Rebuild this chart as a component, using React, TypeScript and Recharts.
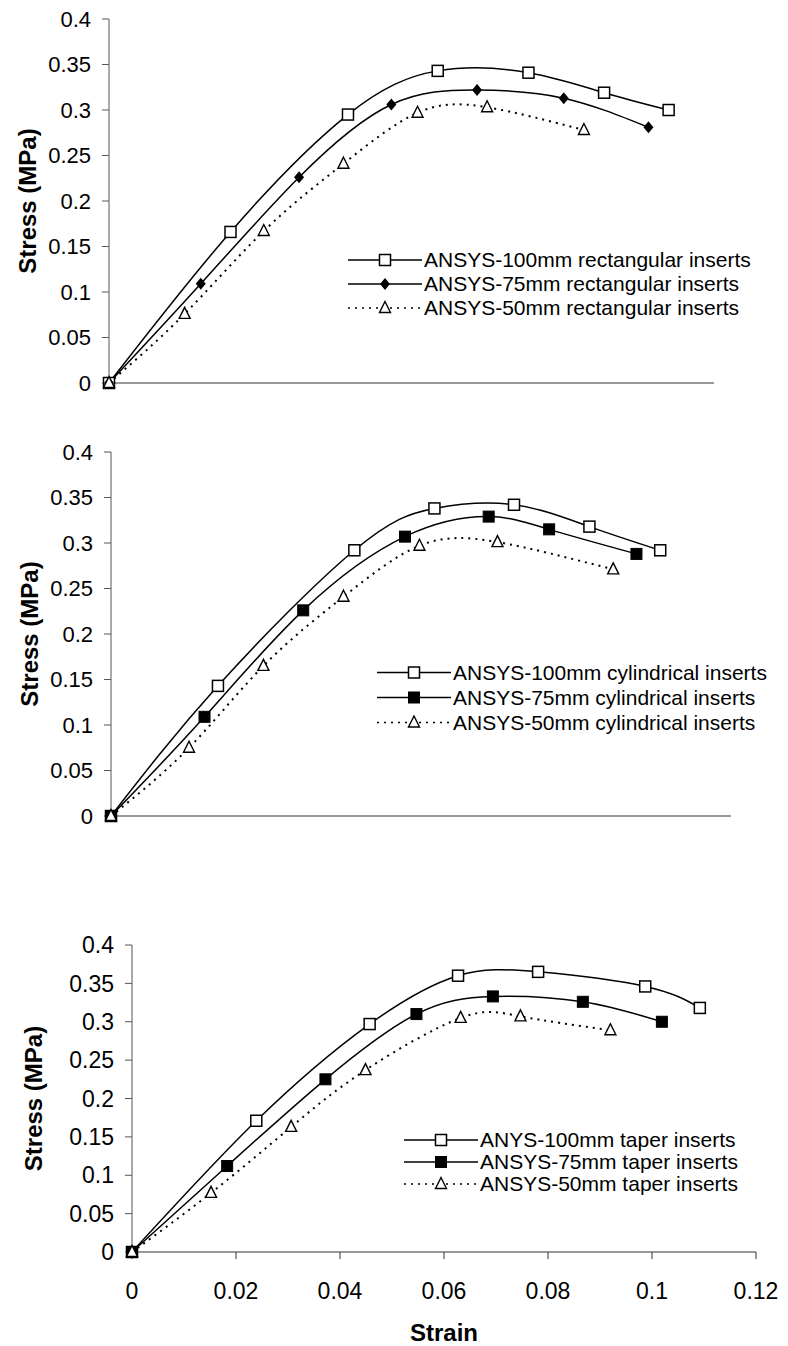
import React from "react";
import { LineChart, Line, XAxis, YAxis, Legend } from "recharts";

const strainTicks = [0, 0.02, 0.04, 0.06, 0.08, 0.1, 0.12];
const stressTicks = [0, 0.05, 0.1, 0.15, 0.2, 0.25, 0.3, 0.35, 0.4];

// [strain, stress (MPa)]
const rect100 = [[0, 0], [0.0241, 0.166], [0.0474, 0.295], [0.0652, 0.343], [0.0832, 0.341], [0.0982, 0.319], [0.111, 0.3]];
const rect75 = [[0, 0], [0.0182, 0.109], [0.0377, 0.226], [0.056, 0.306], [0.073, 0.322], [0.0902, 0.313], [0.107, 0.281]];
const rect50 = [[0, 0], [0.015, 0.076], [0.0307, 0.167], [0.0465, 0.241], [0.0612, 0.297], [0.075, 0.303], [0.0942, 0.278]];

const cyl100 = [[0, 0], [0.0207, 0.143], [0.0471, 0.292], [0.0626, 0.338], [0.078, 0.342], [0.0926, 0.318], [0.1063, 0.292]];
const cyl75 = [[0, 0], [0.0181, 0.109], [0.0372, 0.226], [0.0569, 0.307], [0.0731, 0.329], [0.0848, 0.315], [0.1017, 0.288]];
const cyl50 = [[0, 0], [0.0151, 0.075], [0.0295, 0.165], [0.045, 0.241], [0.0597, 0.297], [0.0748, 0.301], [0.0972, 0.271]];

const taper100 = [[0, 0], [0.0239, 0.171], [0.0457, 0.297], [0.0627, 0.36], [0.0781, 0.365], [0.0987, 0.346], [0.1092, 0.318]];
const taper75 = [[0, 0], [0.0183, 0.112], [0.0372, 0.225], [0.0547, 0.31], [0.0694, 0.333], [0.0867, 0.326], [0.1019, 0.3]];
const taper50 = [[0, 0], [0.0152, 0.077], [0.0306, 0.163], [0.0449, 0.237], [0.0632, 0.305], [0.0747, 0.307], [0.092, 0.289]];

const FONT = "'Liberation Sans', Arial, sans-serif";

const toRows = (pts: number[][]) => pts.map(([strain, stress]) => ({ strain, stress }));

type MarkerKind = "openSquare" | "square" | "diamond" | "triangle";

function drawMarker(kind: MarkerKind, cx: number, cy: number) {
  if (kind === "openSquare")
    return <rect x={cx - 5.5} y={cy - 5.5} width={11} height={11} fill="#fff" stroke="#000" strokeWidth={1.5} />;
  if (kind === "square")
    return <rect x={cx - 5.5} y={cy - 5.5} width={11} height={11} fill="#000" stroke="#000" strokeWidth={1} />;
  if (kind === "diamond")
    return <polygon points={`${cx},${cy - 6} ${cx + 5},${cy} ${cx},${cy + 6} ${cx - 5},${cy}`} fill="#000" />;
  return (
    <polygon
      points={`${cx},${cy - 6.5} ${cx + 5.5},${cy + 4.5} ${cx - 5.5},${cy + 4.5}`}
      fill="#fff"
      stroke="#000"
      strokeWidth={1.4}
    />
  );
}

const makeDot = (kind: MarkerKind) => (props: any) => {
  const { cx, cy, index } = props;
  if (cx == null || cy == null) return <g key={index} />;
  return <g key={index}>{drawMarker(kind, cx, cy)}</g>;
};

type Series = { name: string; points: number[][]; marker: MarkerKind; dash?: string };

function LegendBlock({ items, rowH, fontSize }: { items: Series[]; rowH: number; fontSize: number }) {
  return (
    <div style={{ fontFamily: FONT, fontSize, color: "#000" }}>
      {items.map((s) => (
        <div key={s.name} style={{ display: "flex", alignItems: "center", height: rowH }}>
          <svg width={74} height={rowH}>
            <line x1={0} x2={74} y1={rowH / 2} y2={rowH / 2} stroke="#000" strokeWidth={1.5} strokeDasharray={s.dash} />
            {drawMarker(s.marker, 37, rowH / 2)}
          </svg>
          <span style={{ marginLeft: 2, whiteSpace: "nowrap" }}>{s.name}</span>
        </div>
      ))}
    </div>
  );
}

const StressLabel = (x: number) => (props: any) => {
  const vb = props.viewBox || {};
  const cy = vb.y + vb.height / 2;
  return (
    <text
      x={x}
      y={cy}
      transform={`rotate(-90 ${x} ${cy})`}
      textAnchor="middle"
      dominantBaseline="central"
      fontFamily={FONT}
      fontWeight="bold"
      fontSize={24}
      fill="#000"
    >
      Stress (MPa)
    </text>
  );
};

const StrainLabel = (props: any) => {
  const vb = props.viewBox || {};
  return (
    <text
      x={vb.x + vb.width / 2}
      y={vb.y + 80}
      textAnchor="middle"
      dominantBaseline="central"
      fontFamily={FONT}
      fontWeight="bold"
      fontSize={24}
      fill="#000"
    >
      Strain
    </text>
  );
};

type PanelProps = {
  top: number;
  height: number;
  margin: { top: number; right: number };
  yWidth: number;
  xHeight: number;
  labelX: number;
  tickFont: number;
  showX: boolean;
  series: Series[];
  legend: { left: number; top: number; rowH: number; fontSize: number };
};

function Panel({ top, height, margin, yWidth, xHeight, labelX, tickFont, showX, series, legend }: PanelProps) {
  const Y = StressLabel(labelX);
  return (
    <div style={{ position: "absolute", left: 0, top }}>
      <LineChart width={788} height={height} margin={{ top: margin.top, right: margin.right, left: 0, bottom: 0 }}>
        <XAxis
          type="number"
          dataKey="strain"
          domain={[0, 0.12]}
          ticks={strainTicks}
          height={xHeight}
          axisLine={{ stroke: "#333", strokeWidth: 1 }}
          tickLine={{ stroke: "#333" }}
          tickSize={7}
          tickMargin={24}
          tick={showX ? { fontFamily: FONT, fontSize: tickFont, fill: "#000" } : false}
          label={showX ? <StrainLabel /> : undefined}
        />
        <YAxis
          type="number"
          dataKey="stress"
          domain={[0, 0.4]}
          ticks={stressTicks}
          width={yWidth}
          axisLine={{ stroke: "#555", strokeWidth: 1 }}
          tickLine={{ stroke: "#555" }}
          tickSize={7}
          tickMargin={11}
          tick={{ fontFamily: FONT, fontSize: tickFont, fill: "#000" }}
          label={<Y />}
        />
        {series.map((s) => (
          <Line
            key={s.name}
            name={s.name}
            data={toRows(s.points)}
            dataKey="stress"
            type="natural"
            stroke="#000"
            strokeWidth={s.dash ? 2 : 1.5}
            strokeDasharray={s.dash}
            dot={makeDot(s.marker)}
            activeDot={false}
            isAnimationActive={false}
          />
        ))}
        <Legend
          layout="vertical"
          align="center"
          verticalAlign="middle"
          wrapperStyle={{ left: legend.left, top: legend.top, width: 440, height: "auto" }}
          content={() => <LegendBlock items={series} rowH={legend.rowH} fontSize={legend.fontSize} />}
        />
      </LineChart>
    </div>
  );
}

const rectSeries: Series[] = [
  { name: "ANSYS-100mm rectangular inserts", points: rect100, marker: "openSquare" },
  { name: "ANSYS-75mm rectangular inserts", points: rect75, marker: "diamond" },
  { name: "ANSYS-50mm rectangular inserts", points: rect50, marker: "triangle", dash: "2 5" },
];

const cylSeries: Series[] = [
  { name: "ANSYS-100mm cylindrical inserts", points: cyl100, marker: "openSquare" },
  { name: "ANSYS-75mm cylindrical inserts", points: cyl75, marker: "square" },
  { name: "ANSYS-50mm cylindrical inserts", points: cyl50, marker: "triangle", dash: "2 5" },
];

const taperSeries: Series[] = [
  { name: "ANYS-100mm taper inserts", points: taper100, marker: "openSquare" },
  { name: "ANSYS-75mm taper inserts", points: taper75, marker: "square" },
  { name: "ANSYS-50mm taper inserts", points: taper50, marker: "triangle", dash: "2 5" },
];

export default function App() {
  return (
    <div style={{ position: "absolute", left: 0, top: 0, width: 788, height: 1346, background: "#fff" }}>
      <Panel
        top={0}
        height={400}
        margin={{ top: 19, right: 74 }}
        yWidth={109}
        xHeight={17}
        labelX={27}
        tickFont={22}
        showX={false}
        series={rectSeries}
        legend={{ left: 348, top: 248, rowH: 24, fontSize: 21 }}
      />
      <Panel
        top={420}
        height={420}
        margin={{ top: 32, right: 57 }}
        yWidth={111}
        xHeight={24}
        labelX={29}
        tickFont={22}
        showX={false}
        series={cylSeries}
        legend={{ left: 377, top: 240, rowH: 25, fontSize: 21 }}
      />
      <Panel
        top={900}
        height={446}
        margin={{ top: 45, right: 32 }}
        yWidth={132}
        xHeight={94}
        labelX={33}
        tickFont={23}
        showX={true}
        series={taperSeries}
        legend={{ left: 404, top: 229, rowH: 22, fontSize: 21 }}
      />
    </div>
  );
}
